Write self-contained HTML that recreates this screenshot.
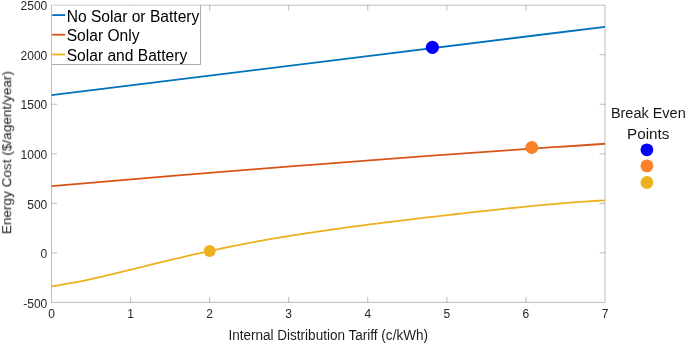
<!DOCTYPE html>
<html><head><meta charset="utf-8">
<style>
html,body{margin:0;padding:0;background:#fff;}
body{width:685px;height:343px;overflow:hidden;}
svg{display:block;font-family:"Liberation Sans",sans-serif;}
text{will-change:transform;}
</style></head><body>
<svg width="685" height="343" viewBox="0 0 685 343">
<rect width="685" height="343" fill="#fff"/>
<g>
<g stroke="#262626" stroke-opacity="0.3" stroke-width="1" fill="none">
<rect x="51.5" y="5.2" width="553.5" height="297.2"/>
<line x1="130.57" y1="302.40" x2="130.57" y2="296.90"/><line x1="130.57" y1="5.20" x2="130.57" y2="10.70"/><line x1="209.64" y1="302.40" x2="209.64" y2="296.90"/><line x1="209.64" y1="5.20" x2="209.64" y2="10.70"/><line x1="288.71" y1="302.40" x2="288.71" y2="296.90"/><line x1="288.71" y1="5.20" x2="288.71" y2="10.70"/><line x1="367.79" y1="302.40" x2="367.79" y2="296.90"/><line x1="367.79" y1="5.20" x2="367.79" y2="10.70"/><line x1="446.86" y1="302.40" x2="446.86" y2="296.90"/><line x1="446.86" y1="5.20" x2="446.86" y2="10.70"/><line x1="525.93" y1="302.40" x2="525.93" y2="296.90"/><line x1="525.93" y1="5.20" x2="525.93" y2="10.70"/><line x1="51.50" y1="252.87" x2="57.00" y2="252.87"/><line x1="605.00" y1="252.87" x2="599.50" y2="252.87"/><line x1="51.50" y1="203.33" x2="57.00" y2="203.33"/><line x1="605.00" y1="203.33" x2="599.50" y2="203.33"/><line x1="51.50" y1="153.80" x2="57.00" y2="153.80"/><line x1="605.00" y1="153.80" x2="599.50" y2="153.80"/><line x1="51.50" y1="104.27" x2="57.00" y2="104.27"/><line x1="605.00" y1="104.27" x2="599.50" y2="104.27"/><line x1="51.50" y1="54.73" x2="57.00" y2="54.73"/><line x1="605.00" y1="54.73" x2="599.50" y2="54.73"/>
</g>
<g font-size="12" fill="#262626"><text x="51.50" y="318.3" text-anchor="middle">0</text><text x="130.57" y="318.3" text-anchor="middle">1</text><text x="209.64" y="318.3" text-anchor="middle">2</text><text x="288.71" y="318.3" text-anchor="middle">3</text><text x="367.79" y="318.3" text-anchor="middle">4</text><text x="446.86" y="318.3" text-anchor="middle">5</text><text x="525.93" y="318.3" text-anchor="middle">6</text><text x="605.00" y="318.3" text-anchor="middle">7</text><text x="47.3" y="307.60" text-anchor="end">-500</text><text x="47.3" y="258.07" text-anchor="end">0</text><text x="47.3" y="208.53" text-anchor="end">500</text><text x="47.3" y="159.00" text-anchor="end">1000</text><text x="47.3" y="109.47" text-anchor="end">1500</text><text x="47.3" y="59.93" text-anchor="end">2000</text><text x="47.3" y="10.40" text-anchor="end">2500</text></g>
<text x="228.4" y="339.6" font-size="14" fill="#1c1c1c" textLength="199.6" lengthAdjust="spacingAndGlyphs">Internal Distribution Tariff (c/kWh)</text>
<text transform="translate(11.2,152.6) rotate(-90)" font-size="13.6" fill="#1c1c1c" text-anchor="middle">Energy Cost ($/agent/year)</text>
<g fill="none" stroke-width="1.8" stroke-linecap="butt">
<path d="M51.5,95.1 Q328.25,60.05 605.0,26.8" stroke="#0072bd"/>
<path d="M51.5,186.2 Q328.25,161.98 605.0,143.75" stroke="#d95319"/>
<path d="M51.50,286.39 C52.65,286.22 56.11,285.72 58.42,285.36 C60.73,284.99 63.03,284.60 65.34,284.20 C67.64,283.79 69.95,283.37 72.26,282.93 C74.56,282.49 76.87,282.04 79.17,281.57 C81.48,281.11 83.79,280.62 86.09,280.13 C88.40,279.64 90.71,279.14 93.01,278.63 C95.32,278.11 97.62,277.59 99.93,277.06 C102.24,276.54 104.54,276.00 106.85,275.46 C109.16,274.91 111.46,274.36 113.77,273.81 C116.08,273.26 118.38,272.70 120.69,272.14 C122.99,271.58 125.30,271.02 127.61,270.45 C129.91,269.89 132.22,269.32 134.53,268.75 C136.83,268.18 139.14,267.61 141.44,267.04 C143.75,266.47 146.06,265.91 148.36,265.34 C150.67,264.77 152.97,264.21 155.28,263.64 C157.59,263.08 159.89,262.51 162.20,261.96 C164.51,261.40 166.81,260.84 169.12,260.28 C171.43,259.73 173.73,259.18 176.04,258.63 C178.34,258.09 180.65,257.55 182.96,257.01 C185.26,256.47 187.57,255.93 189.88,255.41 C192.18,254.88 194.49,254.35 196.79,253.83 C199.10,253.31 201.41,252.80 203.71,252.29 C206.02,251.78 208.33,251.27 210.63,250.78 C212.94,250.28 215.24,249.78 217.55,249.30 C219.86,248.81 222.16,248.33 224.47,247.85 C226.78,247.37 229.08,246.90 231.39,246.44 C233.69,245.97 236.00,245.51 238.31,245.06 C240.61,244.61 242.92,244.16 245.23,243.72 C247.53,243.28 249.84,242.84 252.14,242.41 C254.45,241.98 256.76,241.55 259.06,241.13 C261.37,240.71 263.68,240.30 265.98,239.89 C268.29,239.48 270.59,239.08 272.90,238.68 C275.21,238.28 277.51,237.89 279.82,237.50 C282.12,237.11 284.43,236.73 286.74,236.35 C289.04,235.98 291.35,235.60 293.66,235.24 C295.96,234.87 298.27,234.50 300.58,234.14 C302.88,233.79 305.19,233.43 307.49,233.08 C309.80,232.73 312.11,232.38 314.41,232.04 C316.72,231.70 319.03,231.36 321.33,231.02 C323.64,230.69 325.94,230.36 328.25,230.03 C330.56,229.70 332.86,229.38 335.17,229.06 C337.48,228.74 339.78,228.42 342.09,228.11 C344.39,227.79 346.70,227.48 349.01,227.17 C351.31,226.86 353.62,226.56 355.93,226.25 C358.23,225.95 360.54,225.65 362.84,225.35 C365.15,225.05 367.46,224.75 369.76,224.46 C372.07,224.16 374.38,223.87 376.68,223.58 C378.99,223.29 381.29,223.00 383.60,222.72 C385.91,222.43 388.21,222.14 390.52,221.86 C392.82,221.58 395.13,221.30 397.44,221.02 C399.74,220.74 402.05,220.46 404.36,220.18 C406.66,219.90 408.97,219.63 411.28,219.35 C413.58,219.08 415.89,218.80 418.19,218.53 C420.50,218.26 422.81,217.98 425.11,217.71 C427.42,217.44 429.73,217.17 432.03,216.90 C434.34,216.64 436.64,216.37 438.95,216.10 C441.26,215.84 443.56,215.57 445.87,215.31 C448.18,215.04 450.48,214.78 452.79,214.51 C455.09,214.25 457.40,213.99 459.71,213.73 C462.01,213.47 464.32,213.21 466.62,212.95 C468.93,212.69 471.24,212.43 473.54,212.18 C475.85,211.92 478.16,211.67 480.46,211.41 C482.77,211.16 485.08,210.91 487.38,210.66 C489.69,210.41 491.99,210.16 494.30,209.91 C496.61,209.66 498.91,209.42 501.22,209.17 C503.52,208.93 505.83,208.69 508.14,208.45 C510.44,208.21 512.75,207.97 515.06,207.73 C517.36,207.50 519.67,207.26 521.98,207.03 C524.28,206.80 526.59,206.57 528.89,206.35 C531.20,206.12 533.51,205.90 535.81,205.68 C538.12,205.46 540.43,205.24 542.73,205.03 C545.04,204.81 547.34,204.60 549.65,204.40 C551.96,204.19 554.26,203.99 556.57,203.79 C558.88,203.59 561.18,203.40 563.49,203.21 C565.79,203.02 568.10,202.83 570.41,202.65 C572.71,202.47 575.02,202.29 577.33,202.12 C579.63,201.95 581.94,201.78 584.24,201.62 C586.55,201.46 588.86,201.31 591.16,201.16 C593.47,201.01 595.78,200.87 598.08,200.73 C600.39,200.59 603.85,200.40 605.00,200.34" stroke="#edb120"/>
</g>
<circle cx="432.4" cy="47.3" r="6.6" fill="#0000ff"/>
<circle cx="531.8" cy="147.5" r="6.5" fill="#f98128"/>
<circle cx="209.7" cy="250.9" r="6.0" fill="#edb120"/>
<!-- legend -->
<rect x="52" y="5.7" width="148" height="58.8" fill="#fff"/>
<g stroke="#262626" stroke-opacity="0.38" stroke-width="1" fill="none">
<path d="M200.5,5.7 V64.5 H52"/>
</g>
<g stroke-width="1.8">
<line x1="52.2" y1="15.1" x2="65.2" y2="15.1" stroke="#0072bd"/>
<line x1="52.2" y1="34.7" x2="65.2" y2="34.7" stroke="#d95319"/>
<line x1="52.2" y1="54.5" x2="65.2" y2="54.5" stroke="#edb120"/>
</g>
<g font-size="15.6" fill="#000">
<text x="66.7" y="21.8">No Solar or Battery</text>
<text x="66.7" y="41.4">Solar Only</text>
<text x="66.7" y="60.9">Solar and Battery</text>
</g>
<g font-size="15.5" fill="#151515">
<text x="610.9" y="117.8" textLength="74.8" lengthAdjust="spacingAndGlyphs">Break Even</text>
<text x="627.0" y="138.7" textLength="42.4" lengthAdjust="spacingAndGlyphs">Points</text>
</g>
<circle cx="646.9" cy="149.8" r="6.4" fill="#0000ff"/>
<circle cx="646.9" cy="165.9" r="6.4" fill="#f98128"/>
<circle cx="646.9" cy="182.5" r="6.4" fill="#edb120"/>
</g>
</svg>
</body></html>
